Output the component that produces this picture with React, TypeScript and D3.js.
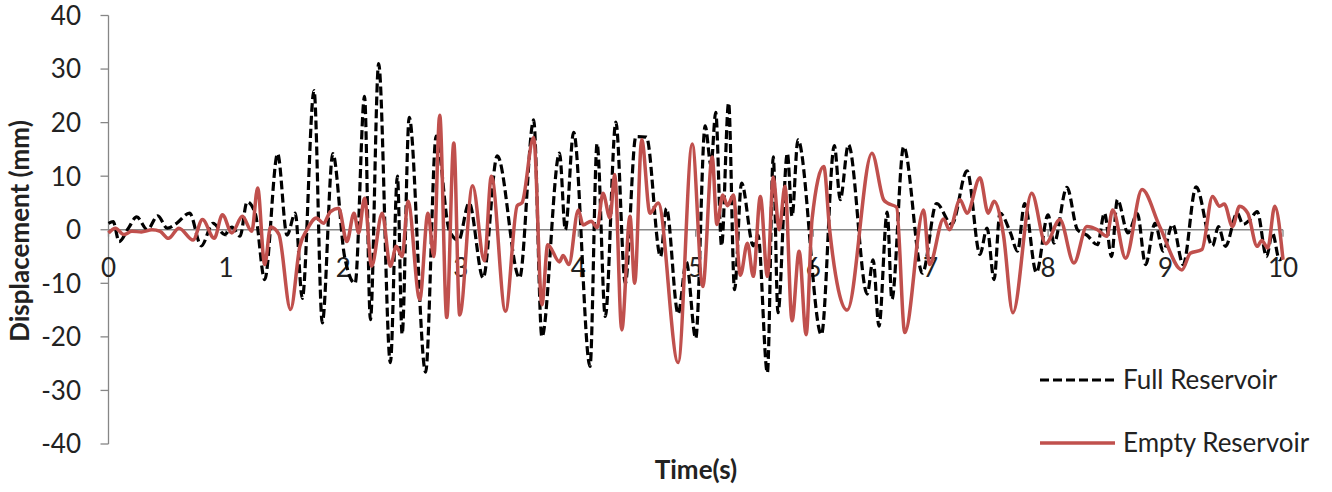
import React from "react";
import * as d3 from "d3";

const yTicks = [-40, -30, -20, -10, 0, 10, 20, 30, 40];
const xTicks = [0, 1, 2, 3, 4, 5, 6, 7, 8, 9, 10];

const fullT = [0, 0.04, 0.09, 0.17, 0.24, 0.33, 0.42, 0.5, 0.58, 0.69, 0.79, 0.89, 0.99, 1.05, 1.12, 1.18, 1.25, 1.33, 1.44, 1.52, 1.59, 1.65, 1.75, 1.82, 1.91, 2.01, 2.1, 2.18, 2.23, 2.3, 2.4, 2.46, 2.5, 2.56, 2.7, 2.79, 2.9, 2.98, 3.07, 3.19, 3.31, 3.5, 3.62, 3.69, 3.84, 3.89, 3.96, 4.1, 4.16, 4.23, 4.32, 4.4, 4.49, 4.58, 4.7, 4.75, 4.85, 4.92, 5.0, 5.08, 5.13, 5.17, 5.22, 5.28, 5.33, 5.39, 5.49, 5.53, 5.61, 5.66, 5.7, 5.78, 5.82, 5.87, 6.07, 6.18, 6.23, 6.3, 6.46, 6.51, 6.56, 6.63, 6.67, 6.77, 6.93, 7.05, 7.18, 7.31, 7.42, 7.48, 7.54, 7.59, 7.68, 7.74, 7.8, 7.9, 8.0, 8.05, 8.16, 8.25, 8.33, 8.42, 8.48, 8.54, 8.59, 8.68, 8.76, 8.83, 8.91, 8.98, 9.06, 9.15, 9.26, 9.4, 9.45, 9.51, 9.61, 9.66, 9.72, 9.78, 9.86, 9.91, 9.97, 10.0];
const fullV = [1.2, 1.5, -2.2, 0.3, 2.4, 0, 2.6, 0.3, 1.2, 3.1, -3, 1.2, -0.9, 0.5, -1.2, 5.2, 3, -9.3, 14.2, -1, 3.1, -12.8, 26, -17.4, 14.2, -5, -10, 24.9, -16.8, 31, -24.8, 10, -19.5, 21, -26.6, 17.5, 0, -2, 5, -9, 13.8, -9, 20.5, -20, 14.3, 0, 18.2, -25.5, 16.1, -16.2, 20.1, -10, 17.4, 17.3, -5, 4, -15.7, -6, -20.3, 19.4, 12, 21.9, -3, 23.7, -11.2, 8.7, -3, -1, -26.7, 13.6, -15.5, 14.3, 2.5, 16.8, -19.6, 15.7, 5.6, 15.9, -12, -5.6, -18, 3.3, -13, 15.5, -8.1, 4.9, 1, 11, -4.6, 0.3, -9.3, 3.1, -0.6, -4, 4.9, -8, 2.8, -2.5, 7.9, 0, -1, -2.8, 3.1, -5, 5.6, -0.6, 3, -6.5, 1.2, -4, 1, -6.5, 8, -3, 0.6, -3.1, 3.1, 1, 1.9, 3.4, -5, -0.6, -5.6, -5];

const emptyT = [0, 0.06, 0.13, 0.2, 0.28, 0.37, 0.44, 0.51, 0.6, 0.72, 0.8, 0.9, 0.97, 1.05, 1.14, 1.22, 1.27, 1.33, 1.38, 1.45, 1.55, 1.63, 1.69, 1.77, 1.83, 1.89, 1.96, 2.03, 2.09, 2.13, 2.18, 2.24, 2.33, 2.4, 2.45, 2.5, 2.55, 2.65, 2.72, 2.77, 2.82, 2.88, 2.94, 2.99, 3.1, 3.2, 3.26, 3.38, 3.48, 3.52, 3.62, 3.69, 3.74, 3.84, 3.87, 3.92, 4.0, 4.04, 4.11, 4.16, 4.21, 4.27, 4.31, 4.37, 4.44, 4.48, 4.54, 4.61, 4.68, 4.85, 4.97, 5.06, 5.14, 5.18, 5.23, 5.27, 5.32, 5.38, 5.44, 5.49, 5.55, 5.61, 5.66, 5.71, 5.76, 5.82, 5.88, 5.94, 5.99, 6.09, 6.14, 6.29, 6.5, 6.6, 6.63, 6.71, 6.78, 6.94, 6.99, 7.11, 7.16, 7.25, 7.31, 7.42, 7.49, 7.54, 7.62, 7.7, 7.86, 7.98, 8.1, 8.22, 8.33, 8.42, 8.5, 8.55, 8.66, 8.8, 8.95, 9.14, 9.21, 9.31, 9.4, 9.46, 9.5, 9.57, 9.63, 9.7, 9.78, 9.82, 9.87, 9.93, 10.0];
const emptyV = [-0.6, 0.3, -0.9, -0.3, -0.4, 0, -0.3, -1.6, 0.3, -1.9, 1.9, -1.6, 2.8, -0.6, 2.5, -0.3, 7.8, -6.5, 0.5, -0.8, -14.9, -3, 0, 2.2, 1.2, 3.4, 4, -2.2, 3.1, -0.6, 5.9, -6.8, 3.1, -6.8, -3.1, -5, 5.3, -13, 3.1, -5, 21.4, -16.4, 16.2, -15.9, 8.2, -5.8, 10, -15.2, 4.5, 5, 17.2, -14, -2.8, -6, -4.8, -6.5, 3.7, 0.9, 1.6, 0.4, 6.8, 2.2, 10.3, -18.7, 2.5, -10, 16.8, 3.1, 5, -24.8, 16, -10.6, 13.6, 1, 6.5, 4.5, 6.5, -8.5, -2.5, -8.7, 6.2, -8.7, 9.8, 0, 8.1, -17, -4, -19.6, 1.9, 11.8, 0, -15, 14.3, 5.6, 5, 4.2, -19.2, 3.7, -6.5, 2, 0, 5.6, 3.1, 9.7, 3.1, 5.3, -1, -15.5, 6.8, -2.6, 1.9, -6.2, 0.6, 0, -1.2, 3.7, -5.3, 7.5, 0.6, -7.5, -4.4, -3.7, 6.2, 4.4, 4.8, 0.6, 4.4, 3.1, -3.1, -2, -3.4, 4.4, -5.6];

const seriesNames = ["Full Reservoir", "Empty Reservoir"];

const W = 1332;
const H = 492;
const FONT = "Lato, 'Open Sans', sans-serif";
const FS = 26;
const TXT = "#222";
const AX = "#868686";
const RED = "#C0504D";

export default function App() {
  const x = d3.scaleLinear().domain([0, 10]).range([108.5, 1283]);
  const y = d3.scaleLinear().domain([-40, 40]).range([444, 15.5]);
  const line = d3
    .line<[number, number]>()
    .x((d) => x(d[0]))
    .y((d) => y(d[1]))
    .curve(d3.curveMonotoneX);
  const full: [number, number][] = fullT.map((t, i) => [t, fullV[i]]);
  const empty: [number, number][] = emptyT.map((t, i) => [t, emptyV[i]]);
  const x0 = x(0);
  const y0 = y(0);
  return (
    <svg
      width={W}
      height={H}
      style={{ position: "absolute", left: 0, top: 0, background: "#fff" }}
      fontFamily={FONT}
    >
      <line x1={x0} x2={x0} y1={y(40)} y2={y(-40)} stroke={AX} strokeWidth={1.3} />
      {yTicks.map((t) => (
        <g key={"y" + t}>
          <line x1={x0 - 8} x2={x0} y1={y(t)} y2={y(t)} stroke={AX} strokeWidth={1.3} />
          <text x={81} y={y(t)} dy="0.36em" textAnchor="end" fontSize={FS} fill={TXT}>
            {t}
          </text>
        </g>
      ))}
      <line x1={x0} x2={x(10)} y1={y0} y2={y0} stroke={AX} strokeWidth={1.3} />
      {xTicks.map((t) => (
        <g key={"x" + t}>
          <line x1={x(t)} x2={x(t)} y1={y0} y2={y0 + 7} stroke={AX} strokeWidth={1.3} />
          <text x={x(t)} y={268} dy="0.36em" textAnchor="middle" fontSize={FS} fill={TXT}>
            {t}
          </text>
        </g>
      ))}
      <path d={line(full) || ""} fill="none" stroke="#000" strokeWidth={3.2} strokeDasharray="9,4" />
      <path d={line(empty) || ""} fill="none" stroke={RED} strokeWidth={3.5} />
      <text
        transform={`translate(20,231) rotate(-90)`}
        textAnchor="middle"
        dy="0.36em"
        fontSize={FS}
        fontWeight="bold"
        fill={TXT}
      >
        Displacement (mm)
      </text>
      <text x={696} y={470} dy="0.36em" textAnchor="middle" fontSize={FS} fontWeight="bold" fill={TXT}>
        Time(s)
      </text>
      <line x1={1040} x2={1115} y1={380} y2={380} stroke="#000" strokeWidth={3.2} strokeDasharray="9,4" />
      <text x={1123} y={380} dy="0.36em" fontSize={FS} fill={TXT}>
        {seriesNames[0]}
      </text>
      <line x1={1040} x2={1115} y1={443} y2={443} stroke={RED} strokeWidth={3.5} />
      <text x={1123} y={443} dy="0.36em" fontSize={FS} fill={TXT}>
        {seriesNames[1]}
      </text>
    </svg>
  );
}
